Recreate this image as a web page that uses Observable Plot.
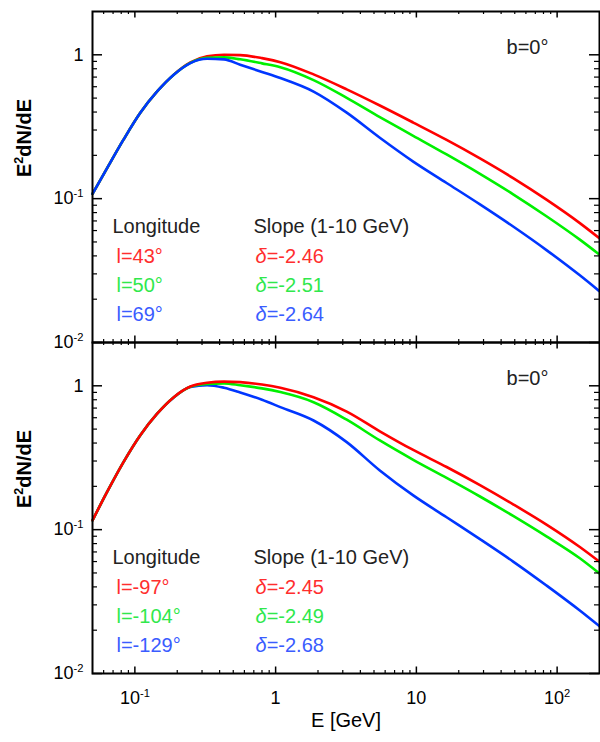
<!DOCTYPE html>
<html>
<head>
<meta charset="utf-8">
<script src="https://cdn.jsdelivr.net/npm/d3@7"></script>
<script src="https://cdn.jsdelivr.net/npm/@observablehq/plot@0.6"></script>
<style>
  html, body { margin: 0; padding: 0; background: #fff; }
  #chart { width: 600px; height: 742px; }
  #chart svg { display: block; }
</style>
</head>
<body>
<div id="chart"></div>
<script>
// ---------- data ----------
const energy = [0.05, 0.0635, 0.083, 0.109, 0.144, 0.189, 0.248, 0.326, 0.43, 0.56, 0.8, 1.08, 1.86, 3.2, 5.5, 9.5, 16.4, 28.3, 48.7, 84, 145, 200];

const topRed   = [0.108, 0.163, 0.257, 0.394, 0.556, 0.728, 0.885, 0.975, 1.0, 0.995, 0.948, 0.889, 0.731, 0.575, 0.444, 0.338, 0.256, 0.1905, 0.139, 0.0984, 0.0676, 0.0530];
const topGreen = [0.108, 0.163, 0.257, 0.394, 0.556, 0.727, 0.88, 0.955, 0.96, 0.93, 0.872, 0.820, 0.667, 0.502, 0.369, 0.2735, 0.2028, 0.1486, 0.1072, 0.0755, 0.0519, 0.0408];
const topBlue  = [0.108, 0.163, 0.257, 0.394, 0.556, 0.726, 0.875, 0.938, 0.93, 0.853, 0.76, 0.689, 0.555, 0.396, 0.265, 0.181, 0.1285, 0.0912, 0.0640, 0.0439, 0.0293, 0.0227];

const botRed   = [0.116, 0.183, 0.295, 0.452, 0.640, 0.834, 0.989, 1.05, 1.07, 1.06, 1.02, 0.968, 0.832, 0.662, 0.483, 0.358, 0.2726, 0.204, 0.150, 0.1084, 0.0757, 0.0598];
const botGreen = [0.116, 0.183, 0.295, 0.452, 0.640, 0.832, 0.985, 1.03, 1.04, 1.01, 0.96, 0.904, 0.769, 0.581, 0.417, 0.306, 0.229, 0.170, 0.1245, 0.0897, 0.0632, 0.0495];
const botBlue  = [0.116, 0.183, 0.295, 0.452, 0.640, 0.83, 0.98, 1.01, 0.97, 0.90, 0.80, 0.711, 0.574, 0.406, 0.258, 0.173, 0.1219, 0.0859, 0.0600, 0.0409, 0.0274, 0.0213];

const panels = ["top", "bottom"];
const seriesNames = ["red", "green", "blue"];
const xTicks = [0.1, 1, 10, 100];
const xTickLabels = ["10^{-1}", "1", "10", "10^{2}"];
const yTicks = [0.01, 0.1, 1];
const yTickLabels = ["10^{-2}", "10^{-1}", "1"];
const legendHeaders = ["Longitude", "Slope (1-10 GeV)"];
const topLongitudes = ["l=43°", "l=50°", "l=69°"];
const topSlopes = ["δ=-2.46", "δ=-2.51", "δ=-2.64"];
const botLongitudes = ["l=-97°", "l=-104°", "l=-129°"];
const botSlopes = ["δ=-2.45", "δ=-2.49", "δ=-2.68"];
const latitudeLabel = "b=0°";
const yTitle = "E^{2}dN/dE";
const xTitle = "E [GeV]";

// ---------- layout & style ----------
const W = 600, H = 742, mL = 92, mR = 1, mT = 10, mB = 69;
const innerW = W - mL - mR;
const facetH = (H - mT - mB) / 2;
const lineColor = {red: "#ff0000", green: "#00f000", blue: "#0036ff"};
const textColor = {red: "#ff2e2e", green: "#30e84c", blue: "#3a5cff"};
const ink = "#222";

const seriesData = {
  top: {red: topRed, green: topGreen, blue: topBlue},
  bottom: {red: botRed, green: botGreen, blue: botBlue}
};
const drawOrder = {top: ["red", "green", "blue"], bottom: ["blue", "green", "red"]};

const lineMarks = panels.flatMap(panel => drawOrder[panel].map(name =>
  Plot.line(energy.map((E, i) => ({panel, name, E, v: seriesData[panel][name][i]})),
    {x: "E", y: "v", fy: "panel", stroke: lineColor[name], strokeWidth: 2.6, curve: "monotone-x"})
));

function minorTicks(lo, hi) {
  const out = [];
  for (let p = Math.floor(Math.log10(lo)); p <= Math.ceil(Math.log10(hi)); p++)
    for (let k = 2; k <= 9; k++) {
      const t = k * Math.pow(10, p);
      if (t > lo * 1.0001 && t < hi * 0.9999) out.push(t);
    }
  return out;
}
const xMinor = minorTicks(0.05, 200);
const yMinor = minorTicks(0.01, 2);

const tickMarks = [
  Plot.tickX(xTicks, {x: d => d, insetTop: facetH - 7, strokeWidth: 1.5}),
  Plot.tickX(xTicks, {x: d => d, insetBottom: facetH - 7, strokeWidth: 1.5}),
  Plot.tickX(xMinor, {x: d => d, insetTop: facetH - 3.5, strokeWidth: 1.2}),
  Plot.tickX(xMinor, {x: d => d, insetBottom: facetH - 3.5, strokeWidth: 1.2}),
  Plot.tickY(yTicks, {y: d => d, insetRight: innerW - 10, strokeWidth: 1.5}),
  Plot.tickY(yTicks, {y: d => d, insetLeft: innerW - 10, strokeWidth: 1.5}),
  Plot.tickY(yMinor, {y: d => d, insetRight: innerW - 5, strokeWidth: 1.2}),
  Plot.tickY(yMinor, {y: d => d, insetLeft: innerW - 5, strokeWidth: 1.2})
];

// legend rows
const legendRows = [];
panels.forEach(panel => {
  const lon = panel === "top" ? topLongitudes : botLongitudes;
  const sl = panel === "top" ? topSlopes : botSlopes;
  legendHeaders.forEach((t, c) => legendRows.push({panel, row: 0, col: c, text: t, fill: ink}));
  seriesNames.forEach((n, i) => {
    legendRows.push({panel, row: i + 1, col: 0, text: lon[i], fill: textColor[n]});
    legendRows.push({panel, row: i + 1, col: 1, text: sl[i], fill: textColor[n]});
  });
});
const rowDy = [215.5, 245, 274, 303];
const colDx = [[20, 161], [24, 163]];
const legendMarks = [];
for (let r = 0; r < 4; r++) for (let c = 0; c < 2; c++) {
  legendMarks.push(Plot.text(legendRows.filter(d => d.row === r && d.col === c), {
    fy: "panel", text: "text", fill: "fill", frameAnchor: "top-left", lineAnchor: "middle",
    dx: colDx[r === 0 ? 0 : 1][c], dy: rowDy[r], textAnchor: "start", fontSize: 20
  }));
}

const chart = Plot.plot({
  width: W, height: H,
  marginLeft: mL, marginRight: mR, marginTop: mT, marginBottom: mB,
  x: {type: "log", domain: [0.05, 200], axis: null},
  y: {type: "log", domain: [0.01, 2], axis: null},
  fy: {domain: panels, padding: 0, axis: null},
  color: {type: "identity"},
  style: {fontFamily: "'Liberation Sans', Arial, Helvetica, sans-serif", fontSize: "18px", background: "#fff", color: "#000"},
  marks: [
    ...lineMarks,
    ...tickMarks,
    Plot.frame({strokeWidth: 2}),
    ...legendMarks,
    Plot.text(panels.map(p => ({panel: p, text: latitudeLabel})), {
      fy: "panel", text: "text", frameAnchor: "top-right", lineAnchor: "middle", dx: -51, dy: 36,
      textAnchor: "end", fontSize: 20, fill: ink
    }),
    Plot.text(yTicks.map((v, i) => ({v, label: yTickLabels[i]})), {
      y: "v", text: "label", frameAnchor: "left", lineAnchor: "middle", dx: -9, textAnchor: "end", fontSize: 18
    }),
    Plot.text(xTicks.map((v, i) => ({panel: "bottom", v, label: xTickLabels[i]})), {
      x: "v", fy: "panel", text: "label", frameAnchor: "bottom", lineAnchor: "middle", dy: 25, fontSize: 18
    }),
    Plot.text([yTitle], {
      text: d => d, frameAnchor: "left", lineAnchor: "middle", dx: -68, rotate: -90, fontSize: 20, fontWeight: "bold"
    }),
    Plot.text([{panel: "bottom", text: xTitle}], {
      fy: "panel", text: "text", frameAnchor: "bottom", lineAnchor: "middle", dy: 47, fontSize: 20
    })
  ]
});
document.getElementById("chart").appendChild(chart);

// superscripts (^{...}) and italic delta as real tspans
function richText(svg) {
  const NS = "http://www.w3.org/2000/svg";
  svg.querySelectorAll("text").forEach(el => {
    if (el.querySelector("tspan")) return;
    const s = el.textContent;
    if (!/\^\{|δ/.test(s)) return;
    const fs = parseFloat(getComputedStyle(el).fontSize) || 18;
    const rise = fs * 0.42;
    el.textContent = "";
    let pending = 0;
    const add = (str, attrs) => {
      if (!str) return;
      const t = document.createElementNS(NS, "tspan");
      t.textContent = str;
      if (pending && !("dy" in attrs)) { t.setAttribute("dy", pending); pending = 0; }
      for (const [k, v] of Object.entries(attrs)) t.setAttribute(k, v);
      el.appendChild(t);
    };
    const re = /\^\{([^}]*)\}|δ/g;
    let last = 0, m;
    while ((m = re.exec(s))) {
      add(s.slice(last, m.index), {});
      if (m[0] === "δ") add("δ", {"font-style": "italic"});
      else { pending = 0; add(m[1], {dy: -rise, "font-size": fs * 0.62}); pending = rise; }
      last = re.lastIndex;
    }
    add(s.slice(last), {});
  });
}
richText(chart);
</script>
</body>
</html>
